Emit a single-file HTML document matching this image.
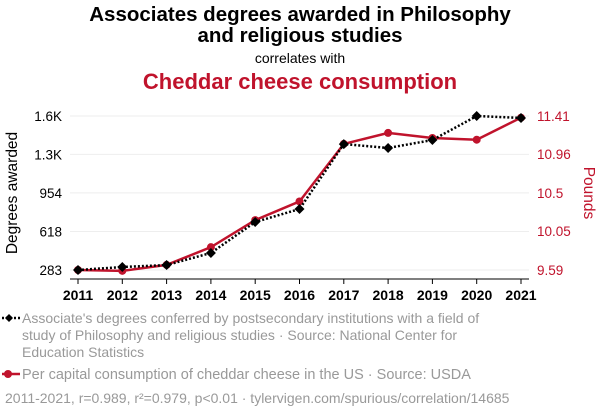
<!DOCTYPE html>
<html><head><meta charset="utf-8"><style>
body{margin:0;background:#fff;width:600px;height:414px;overflow:hidden;font-family:"Liberation Sans",sans-serif}
</style></head><body>
<svg width="600" height="414" viewBox="0 0 600 414" style="font-family:'Liberation Sans',sans-serif">
<text x="300" y="21" text-anchor="middle" font-size="20.5" font-weight="bold" fill="#000">Associates degrees awarded in Philosophy</text>
<text x="300" y="42" text-anchor="middle" font-size="20.5" font-weight="bold" fill="#000">and religious studies</text>
<text x="300" y="63" text-anchor="middle" font-size="14" fill="#000">correlates with</text>
<text x="300" y="89" text-anchor="middle" font-size="22" font-weight="bold" fill="#c0132c">Cheddar cheese consumption</text>
<g id="grid"></g>
<g id="axes"></g>
<g id="series"></g>
<text transform="translate(17,193) rotate(-90)" text-anchor="middle" font-size="15.5" fill="#000">Degrees awarded</text>
<text transform="translate(584,193) rotate(90)" text-anchor="middle" font-size="15.5" fill="#c0132c">Pounds</text>
<g>
<line x1="2" y1="318" x2="20" y2="318" stroke="#000" stroke-width="2.5" stroke-dasharray="2,2"/>
<path d="M5,318 l4,-4 4,4 -4,4z" fill="#000"/>
<text font-size="14" fill="#999"><tspan x="22" y="323">Associate's degrees conferred by postsecondary institutions with a field of</tspan><tspan x="22" y="340">study of Philosophy and religious studies · Source: National Center for</tspan><tspan x="22" y="357">Education Statistics</tspan></text>
</g>
<g>
<line x1="2" y1="374" x2="20" y2="374" stroke="#c0132c" stroke-width="2.5"/>
<circle cx="8" cy="374" r="4" fill="#c0132c"/>
<text x="22" y="379" font-size="14.5" fill="#999">Per capital consumption of cheddar cheese in the US · Source: USDA</text>
</g>
<text x="5" y="403" font-size="14" fill="#999">2011-2021, r=0.989, r²=0.979, p&lt;0.01 · tylervigen.com/spurious/correlation/14685</text>
</svg>
<script>
const years=[2011,2012,2013,2014,2015,2016,2017,2018,2019,2020,2021];
const degrees=[283,309,326,431,700,813,1378,1344,1413,1622,1605];
const cheddar=[9.59,9.58,9.65,9.86,10.18,10.40,11.08,11.21,11.15,11.13,11.39];
const leftTicks=[283,618,954,1288,1622];
const leftLabels=["283","618","954","1.3K","1.6K"];
const rightTicks=[9.59,10.05,10.5,10.96,11.41];
const rightLabels=["9.59","10.05","10.5","10.96","11.41"];
const NS="http://www.w3.org/2000/svg";
const X0=78,X1=521,YB=270,YT=116;
const xs=y=>X0+(y-years[0])/(years[years.length-1]-years[0])*(X1-X0);
const yl=v=>YB-(v-283)/(1622-283)*(YB-YT);
const yr=v=>YB-(v-9.59)/(11.41-9.59)*(YB-YT);
function mk(t,a,p){const e=document.createElementNS(NS,t);for(const k in a)e.setAttribute(k,a[k]);p.appendChild(e);return e;}
const grid=document.getElementById('grid'),axes=document.getElementById('axes'),ser=document.getElementById('series');
leftTicks.forEach((v,i)=>{
 const g=mk('line',{x1:70,x2:529,y1:yl(v),y2:yl(v),stroke:'#eee','stroke-width':1},grid);
 
 
 const t=mk('text',{x:62,y:yl(v)+5,'text-anchor':'end','font-size':13.5,fill:'#000'},axes);t.textContent=leftLabels[i];
 
 
});
rightTicks.forEach((v,i)=>{
 const t=mk('text',{x:537,y:yr(v)+5,'text-anchor':'start','font-size':13.5,fill:'#c0132c'},axes);t.textContent=rightLabels[i];
 
 
});
const ax=mk('line',{x1:70,x2:529,y1:279,y2:279,stroke:'#000','stroke-width':1},axes);


years.forEach(y=>{
 mk('line',{x1:xs(y),x2:xs(y),y1:279,y2:284,stroke:'#000'},axes);
 const t=mk('text',{x:xs(y),y:300,'text-anchor':'middle','font-size':14,'font-weight':'bold',fill:'#000'},axes);t.textContent=y;
 
 
});
const rp=mk('polyline',{points:years.map((y,i)=>xs(y)+','+yr(cheddar[i])).join(' '),fill:'none',stroke:'#c0132c','stroke-width':2.5},ser);


years.forEach((y,i)=>{const c=mk('circle',{cx:xs(y),cy:yr(cheddar[i]),r:4,fill:'#c0132c'},ser);
 
 });
const bp=mk('polyline',{points:years.map((y,i)=>xs(y)+','+yl(degrees[i])).join(' '),fill:'none',stroke:'#000','stroke-width':2.5,'stroke-dasharray':'2,2'},ser);


years.forEach((y,i)=>{const x=xs(y),v=yl(degrees[i]);
 const d=mk('path',{d:`M${x-5},${v} L${x},${v-5} L${x+5},${v} L${x},${v+5}Z`,fill:'#000'},ser);
 
 });
</script>
</body></html>
